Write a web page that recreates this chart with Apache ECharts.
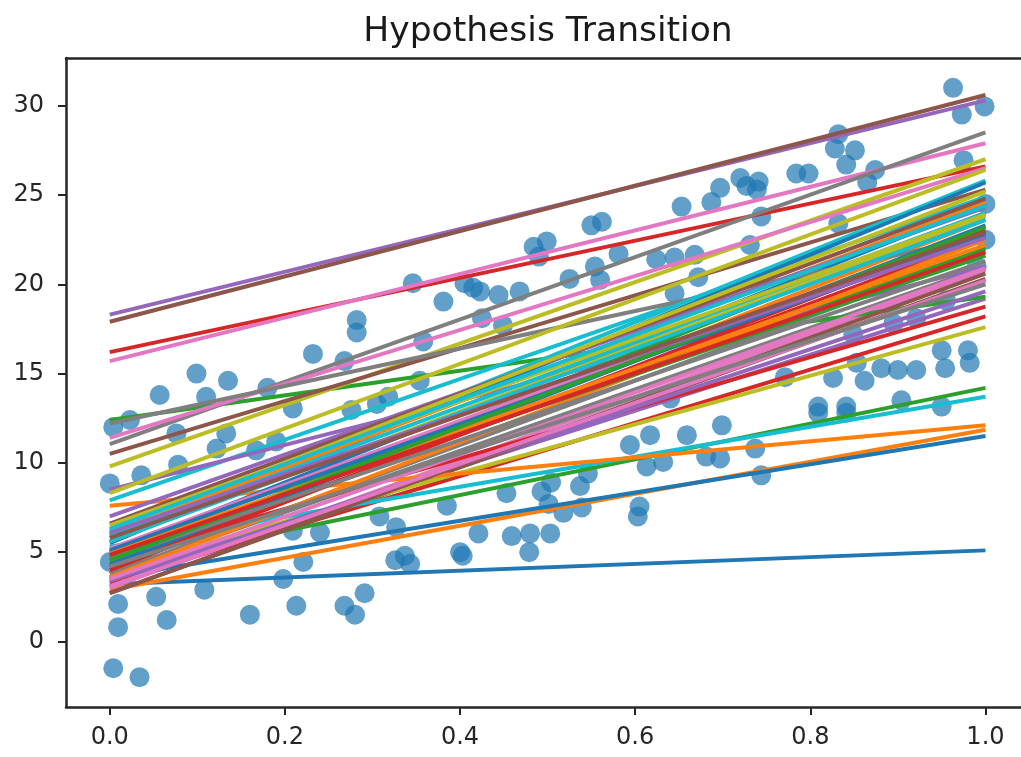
<!DOCTYPE html>
<html>
<head>
	<meta charset="utf-8">
	<title>Hypothesis Transition</title>
	<script src="https://cdn.jsdelivr.net/npm/echarts@6/dist/echarts.min.js"></script>
	<style>
		html,body{margin:0;padding:0;background:#fff;}
		#chart{width:1021px;height:757px;}
	</style>
</head>
<body>
	<div id="chart"></div>
<script type="text/javascript">
	// observed data points
	var pointX=[0.004,0.023,0.057,0.099,0.135,0.110,0.209,0.276,0.076,0.133,0.122,0.167,0.190,0.078,0.036,0.0,0.209,0.240,0.221,0.0,0.198,0.0095,0.053,0.108,0.065,0.0095,0.160,0.213,0.268,0.280,0.291,0.004,0.034,0.308,0.232,0.282,0.282,0.268,0.180,
		0.346,0.381,0.405,0.423,0.415,0.444,0.468,0.425,0.449,0.358,0.484,0.499,0.490,0.550,0.562,0.525,0.554,0.560,0.581,0.653,0.624,0.645,0.668,0.672,0.645,
		0.354,0.318,0.305,0.385,0.327,0.453,0.493,0.504,0.501,0.518,0.537,0.546,0.539,0.421,0.459,0.480,0.503,0.479,0.400,0.403,0.326,0.337,0.343,0.594,0.617,0.659,0.613,0.632,0.605,0.603,0.640,
		0.963,0.999,0.973,0.832,0.828,0.851,0.841,0.874,0.784,0.798,0.697,0.720,0.727,0.741,0.739,0.687,0.744,0.975,0.832,0.865,0.731,0.955,0.849,0.895,0.921,0.853,0.881,0.900,0.921,0.950,0.954,0.980,0.982,0.826,0.771,0.862,0.809,0.841,0.809,0.841,0.904,0.950,0.699,0.681,0.697,0.737,0.744,1.0,1.0,0.99];
	var pointY=[12.0,12.4,13.8,15.0,14.6,13.7,13.05,12.96,11.65,11.65,10.8,10.7,11.2,9.9,9.3,8.85,6.2,6.1,4.45,4.45,3.5,2.1,2.5,2.9,1.2,0.8,1.5,2.0,2.0,1.5,2.7,-1.5,-2.0,7.0,16.1,18.0,17.3,15.7,14.2,
		20.06,19.03,20.06,19.6,19.8,19.4,19.6,18.1,17.7,16.8,22.1,22.4,21.55,23.3,23.5,20.3,21.0,20.25,21.7,24.35,21.4,21.5,21.65,20.4,19.5,
		14.6,13.7,13.3,7.6,6.4,8.3,8.4,8.9,7.7,7.2,8.7,9.4,7.5,6.05,5.9,6.05,6.05,5.0,5.0,4.8,4.55,4.8,4.35,11.0,11.55,11.55,9.8,10.05,7.55,7.0,13.6,
		31.0,29.96,29.5,28.4,27.6,27.5,26.7,26.4,26.2,26.2,25.4,25.95,25.5,25.75,25.3,24.6,23.8,26.95,23.4,25.7,22.2,19.1,17.2,17.8,18.1,15.6,15.3,15.2,15.2,16.3,15.3,16.3,15.6,14.75,14.8,14.6,13.15,13.15,12.8,12.8,13.5,13.15,12.1,10.35,10.25,10.8,9.3,24.5,22.5,21.0];

	// hypotheses: value at x=0 and value at x=1
	var lineStart=[3.2,2.9,4.2,3.3,3.5,2.7,3.0,3.8,4.0,5.3,
		3.6,7.6,12.4,16.2,18.3,17.9,15.7,11.05,9.8,7.9,
		5.0,4.4,4.8,4.6,8.5,10.5,11.4,12.2,8.3,6.0,
		5.5,6.0,4.5,4.2,7.0,6.6,5.2,3.8,6.2,5.9,
		4.3,3.6,5.0,4.0,3.4,2.7,3.1,4.6,5.6,5.6,
		5.1,4.9,4.55,4.85,6.1,5.8,3.5,4.2,6.5,6.3];
	var lineEnd=[5.1,11.85,14.2,18.2,19.2,20.3,20.8,21.0,17.6,13.7,
		11.5,12.1,19.3,26.6,30.3,30.6,27.9,28.5,27.0,24.9,
		24.5,23.6,22.0,18.75,21.0,25.3,26.5,22.7,26.4,25.8,
		25.7,24.6,24.0,22.6,24.3,24.8,23.1,21.8,25.2,24.0,
		23.3,22.5,21.6,23.0,19.6,20.6,20.2,21.3,23.8,23.6,
		22.8,22.2,23.2,21.8,22.6,22.9,20.9,20.0,23.9,24.4];

	var palette=['#1f77b4','#ff7f0e','#2ca02c','#d62728','#9467bd','#8c564b','#e377c2','#7f7f7f','#bcbd22','#17becf'];
	var xTicks=[0,0.2,0.4,0.6,0.8,1.0];
	var yTicks=[0,5,10,15,20,25,30];

	var myChart=echarts.init(document.getElementById('chart'),null,{renderer:'canvas'});

	var scatterData=[];
	for(let i in pointX){
		scatterData.push([pointX[i],pointY[i]]);
	}
	var series=[{
		type:'scatter',
		data:scatterData,
		symbolSize:20,
		itemStyle:{color:'#1f77b4',opacity:0.7},
		z:2
	}];
	for(let i in lineStart){
		series.push({
			type:'line',
			data:[[0,lineStart[i]],[1,lineEnd[i]]],
			showSymbol:false,
			symbol:'none',
			lineStyle:{color:palette[i%10],width:4},
			z:3
		});
	}

	var spine={show:true,onZero:false,lineStyle:{color:'#262626',width:2.5}};
	var labelFont={fontFamily:'DejaVu Sans',fontSize:24,color:'#262626'};
	var option={
		animation:false,
		title:{
			text:'Hypothesis Transition',
			left:543,
			top:10,
			textAlign:'center',
			textStyle:{fontFamily:'DejaVu Sans',fontSize:34.5,fontWeight:'normal',color:'#1a1a1a'}
		},
		grid:{
			left:66,
			top:58,
			right:0,
			bottom:50
		},
		xAxis:[{
			type:'value',
			min:-0.05,
			max:1.0406,
			axisLine:spine,
			splitLine:{show:false},
			axisTick:{show:true,length:8,lineStyle:{color:'#262626',width:2},customValues:xTicks},
			axisLabel:Object.assign({margin:19,customValues:xTicks,formatter:function(v){return v.toFixed(1);}},labelFont)
		},{
			type:'value',
			position:'top',
			min:-0.05,
			max:1.0406,
			axisLine:spine,
			splitLine:{show:false},
			axisTick:{show:false},
			axisLabel:{show:false}
		}],
		yAxis:{
			type:'value',
			min:-3.67,
			max:32.67,
			axisLine:spine,
			splitLine:{show:false},
			axisTick:{show:true,length:8,lineStyle:{color:'#262626',width:2},customValues:yTicks},
			axisLabel:Object.assign({margin:22,customValues:yTicks,formatter:function(v){return String(v);}},labelFont)
		},
		series:series
	};
	myChart.setOption(option);
</script>
</body>
</html>
